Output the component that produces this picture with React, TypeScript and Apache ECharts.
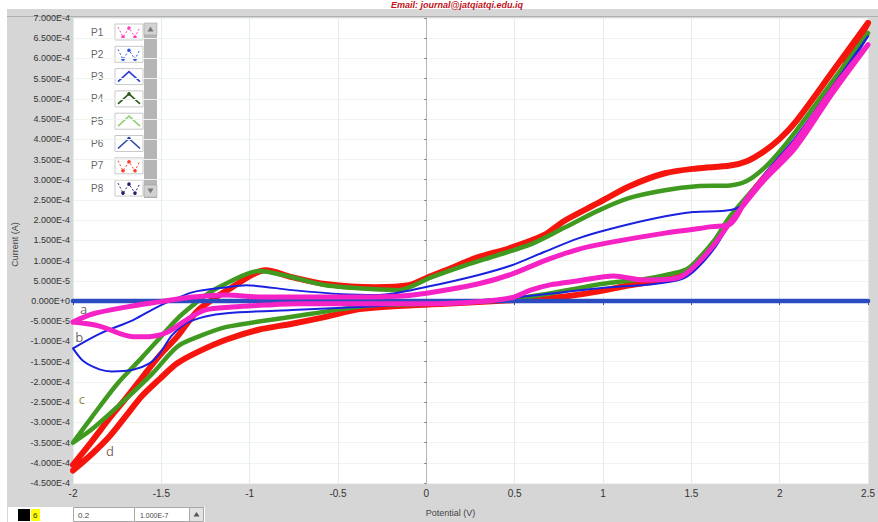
import React, { useEffect, useRef } from "react";
import * as echarts from "echarts";

// Axis ranges (current in units of 1e-4 A)
const X_MIN = -2;
const X_MAX = 2.5;
const X_STEP = 0.5;
const Y_MIN = -4.5;
const Y_MAX = 7;
const Y_STEP = 0.5;
const Y_UNIT = 1e-4;

// Legend entries
const legendNames = ["P1", "P2", "P3", "P4", "P5", "P6", "P7", "P8"];
const legendColors = ["#ff3fbf", "#2f55e0", "#2a3ed6", "#2d5a1c", "#8fd070", "#2846b0", "#ff3a2a", "#222266"];
const legendShapes = ["W", "W", "A", "A", "A", "A", "W", "W"];
const legendMarkers = [true, true, false, true, false, true, true, true];

// Curve d (red)
const dV = [-2.0, -1.89, -1.79, -1.7, -1.61, -1.51, -1.41, -1.29, -1.1, -0.91, -0.76, -0.57, -0.29, -0.1, 0.01, 0.11, 0.29, 0.48, 0.67, 0.78, 0.97, 1.15, 1.35, 1.53, 1.72, 1.81, 1.91, 2.0, 2.09, 2.3, 2.5,
  2.3, 2.09, 1.91, 1.72, 1.63, 1.53, 1.44, 1.29, 1.15, 0.95, 0.76, 0.48, 0.11, -0.16, -0.38, -0.57, -0.76, -0.95, -1.13, -1.29, -1.41, -1.51, -1.61, -1.7, -1.79, -1.89, -2.0];
const dI = [-4.05, -3.45, -2.88, -2.4, -1.9, -1.35, -0.88, -0.22, 0.34, 0.76, 0.59, 0.42, 0.34, 0.39, 0.59, 0.76, 1.08, 1.32, 1.64, 1.98, 2.42, 2.84, 3.16, 3.28, 3.35, 3.45, 3.7, 4.01, 4.43, 5.68, 6.88,
  5.3, 3.92, 3.05, 2.0, 1.42, 0.92, 0.62, 0.48, 0.39, 0.22, 0.1, 0.02, -0.07, -0.12, -0.2, -0.39, -0.56, -0.71, -0.95, -1.25, -1.54, -1.93, -2.35, -2.84, -3.33, -3.77, -4.19];

// Curve c (green)
const cV = [-2.0, -1.89, -1.75, -1.61, -1.51, -1.41, -1.32, -1.23, -1.13, -0.95, -0.76, -0.57, -0.29, -0.16, 0.03, 0.22, 0.4, 0.59, 0.78, 0.97, 1.15, 1.35, 1.53, 1.72, 1.81, 1.91, 2.0, 2.09, 2.3, 2.5,
  2.3, 2.09, 1.91, 1.72, 1.63, 1.53, 1.47, 1.35, 1.23, 1.04, 0.86, 0.67, 0.48, 0.29, 0.01, -0.29, -0.48, -0.76, -1.13, -1.29, -1.41, -1.55, -1.7, -1.89, -2.0];
const cI = [-3.5, -2.85, -2.05, -1.4, -0.92, -0.44, -0.1, 0.2, 0.44, 0.74, 0.59, 0.39, 0.29, 0.27, 0.59, 0.88, 1.13, 1.4, 1.81, 2.23, 2.55, 2.74, 2.84, 2.86, 2.96, 3.28, 3.7, 4.19, 5.44, 6.63,
  5.22, 3.88, 3.05, 2.1, 1.5, 1.0, 0.78, 0.64, 0.54, 0.45, 0.32, 0.17, 0.05, -0.02, -0.07, -0.1, -0.2, -0.39, -0.64, -0.88, -1.13, -1.79, -2.42, -3.16, -3.5];

// Curve b (blue)
const bV = [-2.0, -1.85, -1.66, -1.51, -1.32, -1.13, -1.02, -0.76, -0.48, -0.27, 0.01, 0.29, 0.48, 0.67, 0.86, 1.04, 1.29, 1.51, 1.72, 1.81, 1.91, 2.09, 2.3, 2.5,
  2.3, 2.09, 1.91, 1.72, 1.63, 1.53, 1.45, 1.29, 1.04, 0.67, 0.48, 0.29, 0.01, -0.38, -0.76, -1.13, -1.25, -1.36, -1.44, -1.51, -1.57, -1.66, -1.78, -1.85, -1.94, -2.0];
const bI = [-1.17, -0.81, -0.47, -0.12, 0.22, 0.34, 0.39, 0.27, 0.17, 0.15, 0.36, 0.64, 0.88, 1.22, 1.55, 1.78, 2.04, 2.2, 2.25, 2.45, 3.12, 4.05, 5.32, 6.55,
  5.18, 3.82, 2.98, 1.93, 1.3, 0.8, 0.55, 0.42, 0.34, 0.17, 0.08, 0.02, -0.05, -0.15, -0.22, -0.3, -0.38, -0.55, -0.85, -1.3, -1.55, -1.7, -1.74, -1.69, -1.49, -1.17];

// Curve a (magenta)
const aV = [-2.0, -1.89, -1.7, -1.51, -1.32, -1.13, -0.95, -0.67, -0.38, -0.16, 0.01, 0.29, 0.48, 0.67, 0.86, 1.04, 1.35, 1.62, 1.72, 1.81, 1.91, 2.09, 2.3, 2.5,
  2.3, 2.09, 1.91, 1.81, 1.72, 1.63, 1.53, 1.44, 1.35, 1.23, 1.06, 0.86, 0.7, 0.59, 0.48, 0.29, 0.01, -0.27, -0.72, -0.91, -1.1, -1.25, -1.36, -1.47, -1.57, -1.66, -1.85, -2.0];
const aI = [-0.52, -0.32, -0.15, -0.02, 0.1, 0.15, 0.1, 0.1, 0.1, 0.12, 0.2, 0.42, 0.66, 1.0, 1.28, 1.45, 1.68, 1.84, 1.9, 2.5, 3.05, 3.95, 5.25, 6.34,
  5.15, 3.8, 2.98, 2.45, 1.95, 1.4, 0.91, 0.6, 0.53, 0.52, 0.62, 0.5, 0.4, 0.27, 0.08, -0.02, -0.07, -0.07, -0.07, -0.1, -0.15, -0.22, -0.47, -0.78, -0.88, -0.88, -0.62, -0.52];

// Zero baseline (blue)
const baseV = [-2.0, 2.5];
const baseI = [0, 0];

// Curve labels
const labelNames = ["a", "b", "c", "d"];
const labelV = [-1.94, -1.965, -1.95, -1.79];
const labelI = [-0.2, -0.9, -2.42, -3.7];
const labelColors = ["#3a3a3a", "#3a3a3a", "#7a6810", "#5a3636"];

const pairs = (V: number[], I: number[]) => V.map((v, i) => [v, I[i]]);

const FONT = '"Liberation Sans", Arial, sans-serif';

function buildLegend(): any[] {
  const els: any[] = [];
  legendNames.forEach((name, i) => {
    const cy = 32 + i * 22.3;
    const color = legendColors[i];
    els.push({
      type: "text",
      x: 91,
      y: cy,
      style: { text: name, fill: "#666", font: `10px ${FONT}`, verticalAlign: "middle", textVerticalAlign: "middle" },
    });
    els.push({
      type: "rect",
      shape: { x: 115, y: cy - 8, width: 28, height: 16 },
      style: { fill: "#ffffff", stroke: "#c9c9c9", lineWidth: 1 },
    });
    const pts =
      legendShapes[i] === "W"
        ? [[118, cy - 5], [123, cy + 5], [129, cy - 4], [135, cy + 5], [140, cy - 5]]
        : [[118, cy + 5], [129, cy - 5], [140, cy + 5]];
    els.push({
      type: "polyline",
      shape: { points: pts },
      style: {
        stroke: color,
        fill: null,
        lineWidth: legendShapes[i] === "A" ? 1.6 : 1,
        lineDash: legendShapes[i] === "W" ? [2, 2] : null,
      },
    });
    if (legendMarkers[i]) {
      pts.slice(1, -1).forEach((p) => {
        els.push({ type: "circle", shape: { cx: p[0], cy: p[1], r: 1.8 }, style: { fill: color } });
      });
    }
  });
  // scrollbar
  els.push({ type: "rect", shape: { x: 144, y: 23, width: 13, height: 175 }, style: { fill: "#b5b5b5" } });
  els.push({ type: "rect", shape: { x: 144, y: 23, width: 13, height: 12 }, style: { fill: "#d2d2d2", stroke: "#9a9a9a", lineWidth: 0.5 } });
  els.push({ type: "rect", shape: { x: 144, y: 185, width: 13, height: 12 }, style: { fill: "#d2d2d2", stroke: "#9a9a9a", lineWidth: 0.5 } });
  els.push({ type: "polygon", shape: { points: [[147.5, 31.5], [150.5, 26.5], [153.5, 31.5]] }, style: { fill: "#777" } });
  els.push({ type: "polygon", shape: { points: [[147.5, 188.5], [150.5, 193.5], [153.5, 188.5]] }, style: { fill: "#777" } });
  return els;
}

function buildChrome(): any[] {
  const els: any[] = [];
  // header text
  els.push({
    type: "text",
    x: 457,
    y: 0,
    style: {
      text: "Email: journal@jatqiatqi.edu.iq",
      fill: "#c0141c",
      font: `italic bold 9px ${FONT}`,
      align: "center",
      textAlign: "center",
      verticalAlign: "top",
      textVerticalAlign: "top",
    },
  });
  // top bar line
  els.push({ type: "line", shape: { x1: 7, y1: 16.5, x2: 878, y2: 16.5 }, style: { stroke: "#b0b0b0", lineWidth: 1 } });
  // bottom toolbar
  els.push({ type: "rect", shape: { x: 8, y: 507, width: 197, height: 15 }, style: { fill: "#ffffff" } });
  els.push({ type: "rect", shape: { x: 18, y: 509, width: 12, height: 12 }, style: { fill: "#000000" } });
  els.push({ type: "rect", shape: { x: 31, y: 509, width: 9, height: 12 }, style: { fill: "#ffff00" } });
  els.push({ type: "text", x: 33, y: 515, style: { text: "6", fill: "#333", font: `8px ${FONT}`, verticalAlign: "middle", textVerticalAlign: "middle" } });
  els.push({ type: "rect", shape: { x: 73.5, y: 507.5, width: 61, height: 14 }, style: { fill: "#fff", stroke: "#a8a8a8", lineWidth: 1 } });
  els.push({ type: "text", x: 78, y: 515, style: { text: "0.2", fill: "#444", font: `8px ${FONT}`, verticalAlign: "middle", textVerticalAlign: "middle" } });
  els.push({ type: "rect", shape: { x: 134.5, y: 507.5, width: 55, height: 14 }, style: { fill: "#fff", stroke: "#a8a8a8", lineWidth: 1 } });
  els.push({ type: "text", x: 140, y: 515, style: { text: "1.000E-7", fill: "#444", font: `7px ${FONT}`, verticalAlign: "middle", textVerticalAlign: "middle" } });
  els.push({ type: "rect", shape: { x: 189.5, y: 507.5, width: 14, height: 14 }, style: { fill: "#e2e2e2", stroke: "#a8a8a8", lineWidth: 1 } });
  els.push({ type: "polygon", shape: { points: [[193.5, 516.5], [196.5, 512], [199.5, 516.5]] }, style: { fill: "#555" } });
  return els;
}

const lineSeries = (name: string, V: number[], I: number[], color: string, width: number) => ({
  type: "line",
  name,
  data: pairs(V, I),
  smooth: 0.3,
  symbol: "none",
  showSymbol: false,
  clip: true,
  lineStyle: { color, width, cap: "round", join: "round" },
  emphasis: { disabled: true },
});

export default function App() {
  const ref = useRef<HTMLDivElement>(null);

  useEffect(() => {
    const chart = echarts.init(ref.current!, null, { renderer: "svg" });
    const option: any = {
      animation: false,
      backgroundColor: "transparent",
      grid: {
        left: 73,
        right: 6,
        top: 18,
        bottom: 34,
        show: true,
        backgroundColor: "#ffffff",
        borderWidth: 0,
      },
      xAxis: {
        type: "value",
        min: X_MIN,
        max: X_MAX,
        interval: X_STEP,
        name: "Potential (V)",
        nameLocation: "middle",
        nameGap: 25,
        nameTextStyle: { color: "#444", fontSize: 9, fontFamily: FONT, padding: [0, 40, 0, 0] },
        axisLine: { show: true, lineStyle: { color: "#b5b5b5" } },
        axisTick: { show: true, length: 4, lineStyle: { color: "#555" } },
        axisLabel: { color: "#333", fontSize: 10, fontFamily: FONT, margin: 5, formatter: (v: number) => String(Math.round(v * 10) / 10) },
        splitLine: { show: true, lineStyle: { color: "#e2eee2", width: 1 } },
      },
      yAxis: {
        type: "value",
        min: Y_MIN,
        max: Y_MAX,
        interval: Y_STEP,
        name: "Current (A)",
        nameLocation: "middle",
        nameGap: 52,
        nameRotate: 90,
        nameTextStyle: { color: "#444", fontSize: 9, fontFamily: FONT, padding: [0, 0, 0, 12] },
        axisLine: { show: true, lineStyle: { color: "#b5b5b5" } },
        axisTick: { show: true, length: 2, lineStyle: { color: "#777" } },
        axisLabel: {
          color: "#333",
          fontSize: 9,
          fontFamily: FONT,
          margin: 3,
          formatter: (v: number) => (Math.round(v * 1000) / 1000 * Y_UNIT).toExponential(3).toUpperCase(),
        },
        splitLine: { show: true, lineStyle: { color: "#edf5ed", width: 1 } },
      },
      series: [
        lineSeries("d", dV, dI, "#f5150c", 6),
        lineSeries("c", cV, cI, "#3f9a1f", 4.5),
        lineSeries("b", bV, bI, "#1a22e0", 2),
        lineSeries("baseline", baseV, baseI, "#2a4cc0", 4.5),
        lineSeries("a", aV, aI, "#f522c6", 5),
        {
          type: "scatter",
          name: "labels",
          symbolSize: 1,
          itemStyle: { color: "rgba(0,0,0,0)" },
          data: labelNames.map((n, i) => ({
            value: [labelV[i], labelI[i]],
            label: { color: labelColors[i] },
          })),
          label: {
            show: true,
            position: "inside",
            fontSize: 13,
            fontFamily: '"Open Sans", sans-serif',
            formatter: (p: any) => labelNames[p.dataIndex],
          },
          z: 10,
        },
      ],
      graphic: [...buildChrome(), ...buildLegend()],
    };
    chart.setOption(option);
    return () => chart.dispose();
  }, []);

  return (
    <div style={{ position: "fixed", left: 0, top: 0, width: 878, height: 522, background: "#ffffff", overflow: "hidden" }}>
      <div style={{ position: "absolute", left: 7, top: 9, width: 871, height: 513, background: "#d6d6d6" }} />
      <div ref={ref} style={{ position: "absolute", left: 0, top: 0, width: 878, height: 522 }} />
    </div>
  );
}
